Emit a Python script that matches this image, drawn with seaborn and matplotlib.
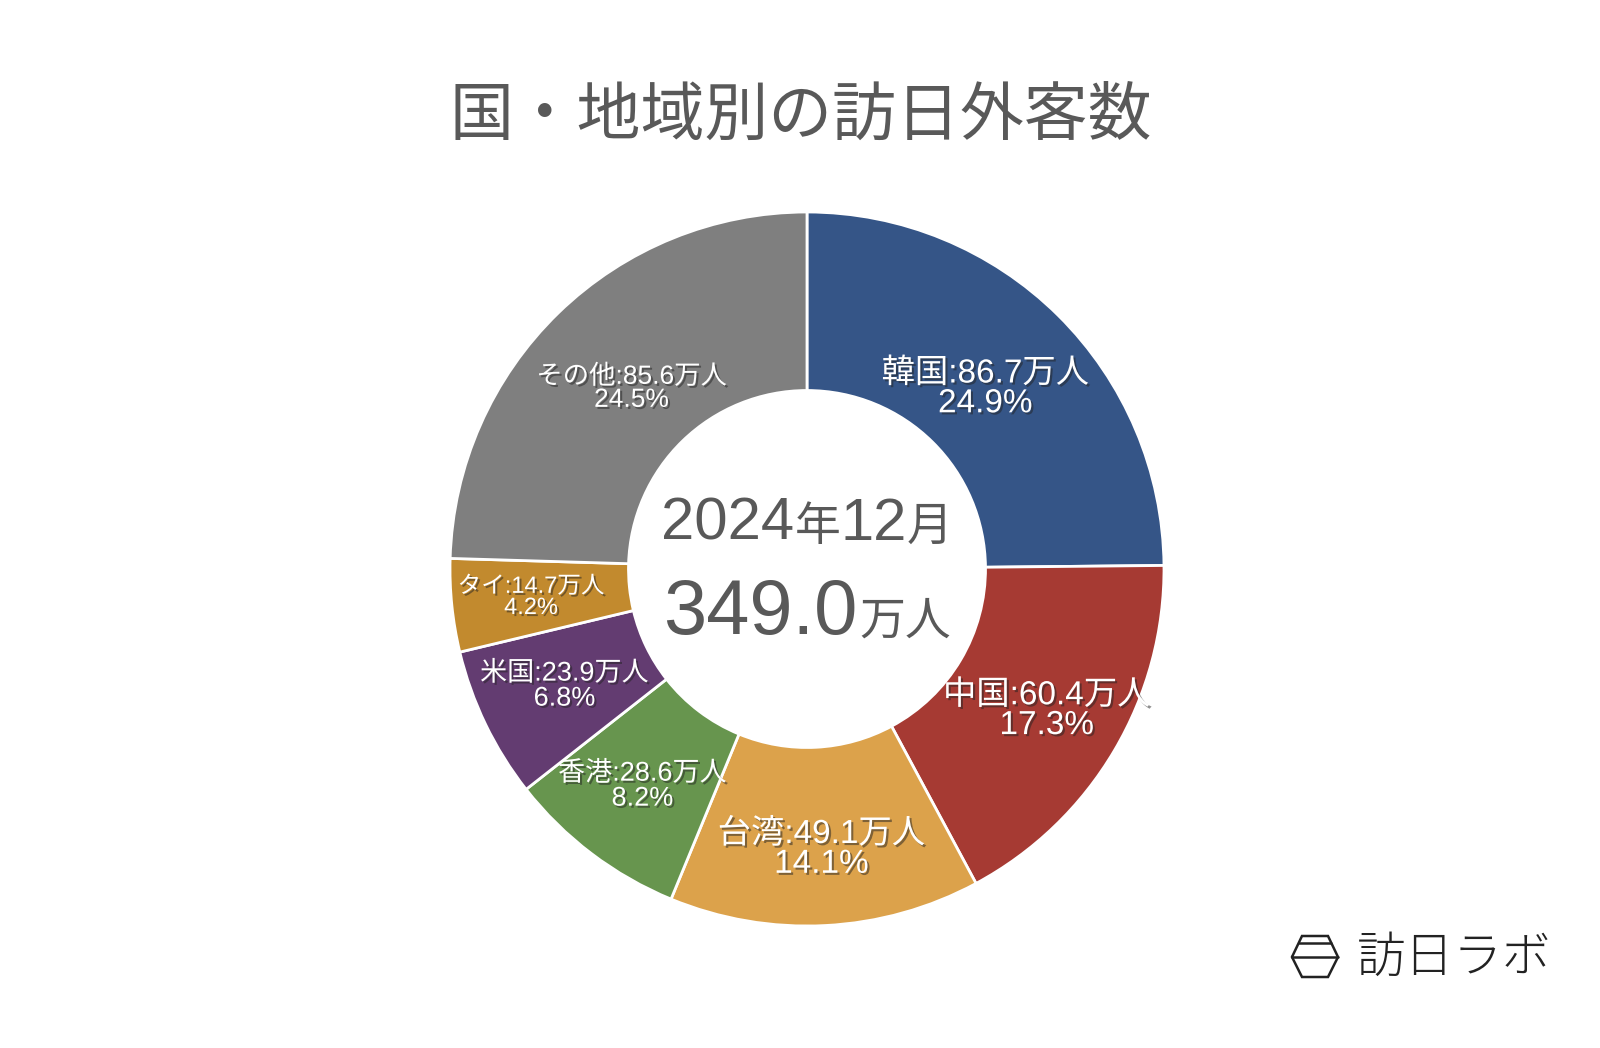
import numpy as np
import matplotlib
matplotlib.use("Agg")
import matplotlib.pyplot as plt
import matplotlib.patheffects as pe
from matplotlib.lines import Line2D
from matplotlib.offsetbox import TextArea, HPacker, AnnotationBbox
import seaborn as sns


TITLE = "国・地域別の訪日外客数"
MONTH_LABEL = ["2024", "年", "12", "月"]
TOTAL_LABEL = ["349.0", "万人"]

countries = ["韓国", "中国", "台湾", "香港", "米国", "タイ", "その他"]
visitors = [86.7, 60.4, 49.1, 28.6, 23.9, 14.7, 85.6]
shares = [24.9, 17.3, 14.1, 8.2, 6.8, 4.2, 24.5]

colors = ["#355587", "#A63A33", "#DCA24B", "#67954E", "#633C71", "#C28A2E", "#7F7F7F"]
# label styling per slice (radius as fraction of outer radius, font size)
label_radius = [0.71, 0.78, 0.786, 0.763, 0.754, 0.777, 0.706]
label_size = [24, 24, 24, 19.5, 19.5, 17, 19]

W, H = 1600, 1048
CX, CY, R = 807, 569, 357

FONTS = ["Liberation Sans", "Noto Sans CJK JP", "DejaVu Sans"]


def main():
    sns.set_theme(style="white")
    plt.rcParams["font.family"] = FONTS

    fig = plt.figure(figsize=(W / 100, H / 100), dpi=100)
    fig.patch.set_facecolor("white")
    ax = fig.add_axes([(CX - R) / W, (H - CY - R) / H, 2 * R / W, 2 * R / H])

    wedges, _ = ax.pie(
        visitors,
        colors=colors,
        startangle=90,
        counterclock=False,
        radius=1,
        wedgeprops=dict(width=0.5, edgecolor="white", linewidth=2),
    )
    ax.set_xlim(-1, 1)
    ax.set_ylim(-1, 1)
    ax.set_aspect("equal")
    ax.axis("off")

    shadow = [pe.withSimplePatchShadow(offset=(1.5, -1.5), shadow_rgbFace="#222222", alpha=0.5)]
    for w, name, val, pct, r, fs in zip(wedges, countries, visitors, shares, label_radius, label_size):
        ang = np.deg2rad((w.theta1 + w.theta2) / 2)
        ax.text(
            r * np.cos(ang), r * np.sin(ang),
            f"{name}:{val:.1f}万人\n{pct:.1f}%",
            ha="center", va="center", color="white", fontsize=fs,
            linespacing=0.95, path_effects=shadow,
        )

    gray = "#595959"
    # center: month
    parts = [
        TextArea(MONTH_LABEL[0], textprops=dict(fontsize=43, color=gray)),
        TextArea(MONTH_LABEL[1], textprops=dict(fontsize=33, color=gray)),
        TextArea(MONTH_LABEL[2], textprops=dict(fontsize=43, color=gray)),
        TextArea(MONTH_LABEL[3], textprops=dict(fontsize=33, color=gray)),
    ]
    box = HPacker(children=parts, align="baseline", pad=0, sep=0)
    ax.add_artist(AnnotationBbox(box, (0, 0.125), frameon=False, pad=0,
                                 box_alignment=(0.5, 0.5)))

    parts = [
        TextArea(TOTAL_LABEL[0], textprops=dict(fontsize=56, color=gray)),
        TextArea(TOTAL_LABEL[1], textprops=dict(fontsize=33, color=gray)),
    ]
    box = HPacker(children=parts, align="baseline", pad=0, sep=1)
    ax.add_artist(AnnotationBbox(box, (0, -0.125), frameon=False, pad=0,
                                 box_alignment=(0.5, 0.5)))

    fig.text(801 / W, 1 - 116 / H, TITLE, ha="center", va="center",
             fontsize=46, color=gray, family=["Noto Sans CJK JP"])

    # logo
    def fx(x):
        return x / W

    def fy(y):
        return 1 - y / H

    hx = [1292, 1302, 1328, 1338, 1328, 1302, 1292]
    hy = [957, 936, 936, 957, 977, 977, 957]
    logo_lines = [
        (hx, hy),
        ([1292, 1338], [957, 957]),
        ([1299, 1331], [943, 943]),
    ]
    for xs, ys in logo_lines:
        fig.add_artist(Line2D([fx(x) for x in xs], [fy(y) for y in ys],
                              transform=fig.transFigure, color="#222222",
                              linewidth=1.8, solid_joinstyle="miter"))
    fig.text(fx(1357), fy(958), "訪日ラボ", ha="left", va="center",
             fontsize=35, color="#222222", fontweight="light",
             family=["Noto Sans CJK JP"])

    fig.savefig("out.png", dpi=100, facecolor="white")


if __name__ == "__main__":
    main()
